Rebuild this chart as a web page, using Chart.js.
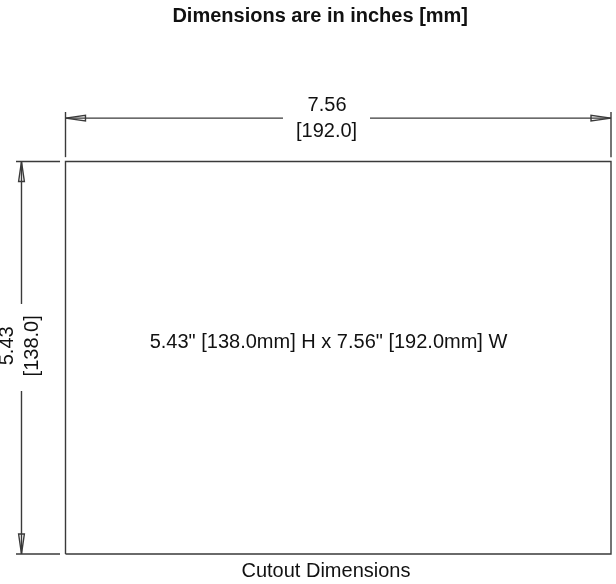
<!DOCTYPE html>
<html>
<head>
<meta charset="utf-8">
<style>
  html, body { margin: 0; padding: 0; background: #fff; }
  canvas { display: block; }
</style>
<script src="https://cdn.jsdelivr.net/npm/chart.js@4"></script>
</head>
<body>
<canvas id="cutoutChart" width="616" height="584"></canvas>
<script>
// all values in inches, origin at lower left corner of the cutout
const rectX = [0, 7.56, 7.56, 0, 0];
const rectY = [0, 0, 5.43, 5.43, 0];

const extLeftX = [0, 0];
const extRightX = [7.56, 7.56];
const extVertY = [5.49, 6.115];
const extHorizX = [-0.686, -0.076];
const extTopY = [5.43, 5.43];
const extBottomY = [0, 0];

const dimTopY = [6.03, 6.03];
const dimTopLeftX = [0, 3.014];
const dimTopRightX = [4.22, 7.56];
const dimSideX = [-0.61, -0.61];
const dimSideUpperY = [3.459, 5.43];
const dimSideLowerY = [0, 2.255];

const arrowLeftX = [0, 0.277, 0.277, 0];
const arrowLeftY = [6.03, 6.07, 5.99, 6.03];
const arrowRightX = [7.56, 7.283, 7.283, 7.56];
const arrowRightY = [6.03, 6.07, 5.99, 6.03];
const arrowTopX = [-0.61, -0.57, -0.65, -0.61];
const arrowTopY = [5.43, 5.153, 5.153, 5.43];
const arrowBottomX = [-0.61, -0.57, -0.65, -0.61];
const arrowBottomY = [0, 0.277, 0.277, 0];

const titleText = 'Dimensions are in inches [mm]';
const widthLabels = ['7.56', '[192.0]'];
const heightLabels = ['5.43', '[138.0]'];
const centerLabel = '5.43" [138.0mm] H x 7.56" [192.0mm] W';
const captionText = 'Cutout Dimensions';

const lineColor = '#3a3a3a';

function seg(xs, ys) {
    return {
        data: xs.map((x, i) => ({ x: x, y: ys[i] })),
        showLine: true,
        borderColor: lineColor,
        borderWidth: 1.4,
        pointRadius: 0,
        fill: false,
        clip: false
    };
}

const textPlugin = {
    id: 'dimensionText',
    afterDatasetsDraw(chart) {
        const c = chart.ctx;
        const sx = chart.scales.x, sy = chart.scales.y;
        const put = (str, x, y, font, rot) => {
            c.save();
            c.translate(sx.getPixelForValue(x), sy.getPixelForValue(y));
            if (rot) c.rotate(-Math.PI / 2);
            c.font = font;
            c.fillStyle = '#111';
            c.textAlign = 'center';
            c.textBaseline = 'middle';
            c.fillText(str, 0, 0);
            c.restore();
        };
        const reg = '20px "Liberation Sans"';
        put(titleText, 3.53, 7.43, 'bold 20px "Liberation Sans"');
        put(widthLabels[0], 3.625, 6.21, reg);
        put(widthLabels[1], 3.618, 5.85, reg);
        put(heightLabels[0], -0.805, 2.88, reg, true);
        put(heightLabels[1], -0.46, 2.88, reg, true);
        put(centerLabel, 3.645, 2.93, reg);
        put(captionText, 3.61, -0.24, reg);
    }
};

const ctx = document.getElementById('cutoutChart').getContext('2d');
const cutoutChart = new Chart(ctx, {
    type: 'scatter',
    data: {
        datasets: [
            seg(rectX, rectY),
            seg(extLeftX, extVertY),
            seg(extRightX, extVertY),
            seg(extHorizX, extTopY),
            seg(extHorizX, extBottomY),
            seg(dimTopLeftX, dimTopY),
            seg(dimTopRightX, dimTopY),
            seg(dimSideX, dimSideUpperY),
            seg(dimSideX, dimSideLowerY),
            seg(arrowLeftX, arrowLeftY),
            seg(arrowRightX, arrowRightY),
            seg(arrowTopX, arrowTopY),
            seg(arrowBottomX, arrowBottomY)
        ]
    },
    options: {
        responsive: false,
        animation: false,
        layout: { padding: { left: 65.5, top: 161.5, right: 5, bottom: 30 } },
        scales: {
            x: { type: 'linear', min: 0, max: 7.56, display: false },
            y: { type: 'linear', min: 0, max: 5.43, display: false }
        },
        plugins: {
            legend: { display: false },
            tooltip: { enabled: false }
        }
    },
    plugins: [textPlugin]
});
</script>
</body>
</html>
